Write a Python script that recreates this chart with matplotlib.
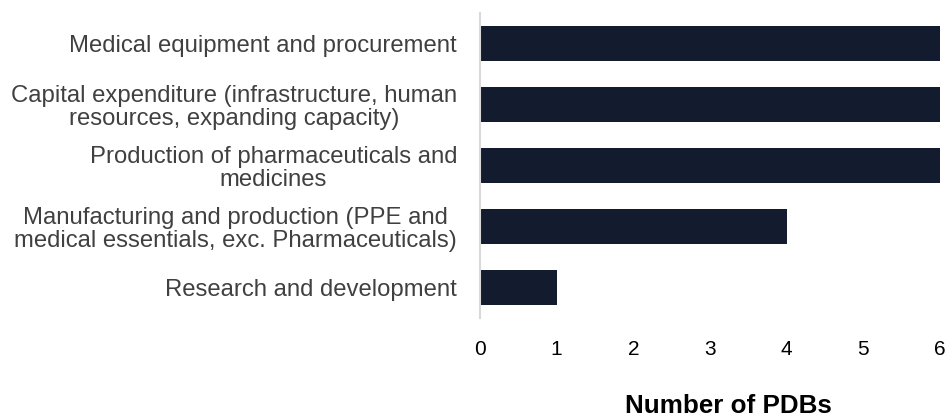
import matplotlib
matplotlib.use("Agg")
import matplotlib.pyplot as plt

categories = [
    "Medical equipment and procurement",
    "Capital expenditure (infrastructure, human\nresources, expanding capacity)",
    "Production of pharmaceuticals and\nmedicines",
    "Manufacturing and production (PPE and\nmedical essentials, exc. Pharmaceuticals)",
    "Research and development",
]
values = [6, 6, 6, 4, 1]
xticks = [0, 1, 2, 3, 4, 5, 6]
xlabel = "Number of PDBs"

plt.rcParams['font.family'] = ['Liberation Sans', 'DejaVu Sans']

W, H = 948, 418
fig = plt.figure(figsize=(W / 100, H / 100), dpi=100)
ax = fig.add_axes([480 / W, 1 - 318 / H, 460 / W, 305 / H])

y = list(range(len(categories)))
ax.barh(y, values, height=0.56, color="#131c2e")
ax.set_ylim(len(categories) - 0.5, -0.5)
ax.set_xlim(0, 6)
ax.set_xticks(xticks)
ax.set_xticklabels([str(t) for t in xticks], fontsize=15, color="#000000")
ax.set_yticks(y)
ax.set_yticklabels(categories, fontsize=17.2, color="#404040", ha="right",
                   multialignment="center", linespacing=1.08)
ax.tick_params(axis="both", length=0)
ax.tick_params(axis="x", pad=16)
ax.tick_params(axis="y", pad=16.5)

for s in ["top", "right", "bottom"]:
    ax.spines[s].set_visible(False)
ax.spines["left"].set_color("#d9d9d9")
ax.spines["left"].set_linewidth(1.5)

fig.text(728.5 / W, 1 - 413 / H, xlabel, fontsize=18.7, fontweight="bold",
         ha="center", va="baseline", color="#000000")

fig.savefig("out.png", dpi=100)
